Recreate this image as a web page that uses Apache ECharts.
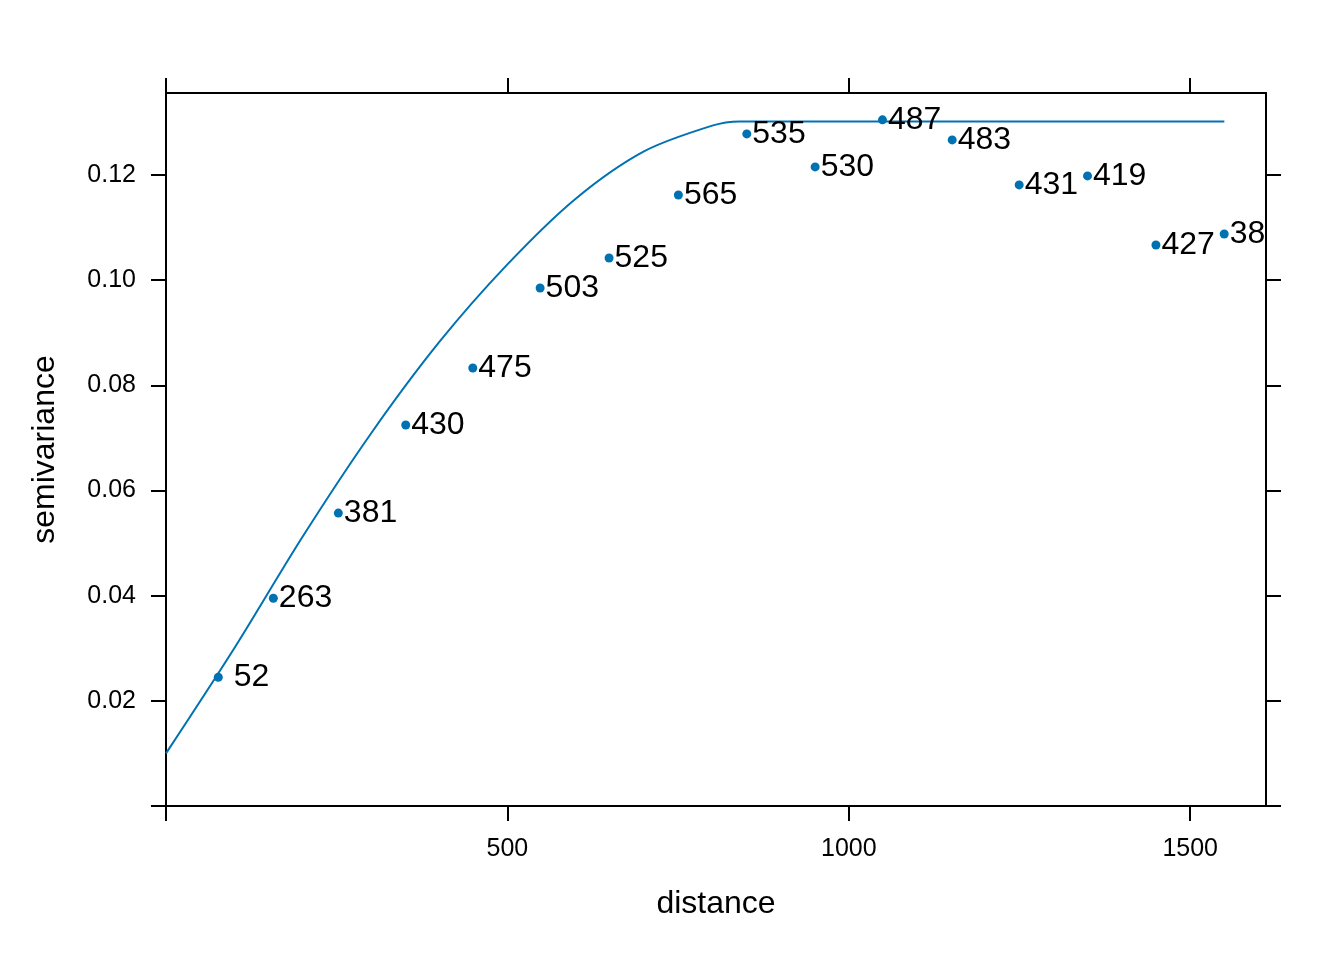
<!DOCTYPE html>
<html>
<head>
<meta charset="utf-8">
<script src="https://cdn.jsdelivr.net/npm/echarts@6/dist/echarts.min.js"></script>
<style>html,body{margin:0;padding:0;background:#fff;}#c{width:1344px;height:960px;}</style>
</head>
<body>
<div id="c"></div>
<script>
// Sample variogram: lag distance, semivariance, number of point pairs
const distance = [76.6, 157.2, 252.4, 351.1, 449.3, 547.9, 648.9, 750.4, 850.6, 950.7, 1049.3, 1151.4, 1249.5, 1349.6, 1449.8, 1549.8];
const gamma = [0.02449, 0.03952, 0.0557, 0.07245, 0.08329, 0.09852, 0.10422, 0.11621, 0.12782, 0.12154, 0.13049, 0.12668, 0.11812, 0.11983, 0.1067, 0.10879];
const npairs = ['52', '263', '381', '430', '475', '503', '525', '565', '535', '530', '487', '483', '431', '419', '427', '38'];

// Fitted model curve
const modelDist = [0, 100, 200, 300, 400, 500, 600, 700, 800, 840, 1000, 1550];
const modelGamma = [0.0100, 0.0300, 0.0512, 0.0708, 0.0882, 0.1030, 0.1155, 0.1245, 0.1294, 0.1302, 0.1302, 0.1302];

// Axis ticks
const xTicks = [0, 500, 1000, 1500];
const xTickLabels = [500, 1000, 1500];
const yTicks = [0, 0.02, 0.04, 0.06, 0.08, 0.10, 0.12];
const yTickLabels = [0.02, 0.04, 0.06, 0.08, 0.10, 0.12];

const FONT = 'Liberation Sans';
const BLUE = '#0072B2';
const XMAX = 1611, YMAX = 0.1356;

const lineStyle = {color: '#000', width: 2};
function xAxis(pos, showLabel) {
  return {
    type: 'value', position: pos, min: 0, max: XMAX,
    name: showLabel ? 'distance' : '', nameLocation: 'middle', nameGap: 82,
    nameTextStyle: {fontFamily: FONT, fontSize: 32, color: '#000'},
    axisLine: {show: true, onZero: false, lineStyle},
    axisTick: {show: true, inside: false, length: 15, lineStyle, customValues: xTicks},
    axisLabel: {show: showLabel, fontFamily: FONT, fontSize: 25, color: '#000', margin: 31,
      customValues: xTickLabels, formatter: v => String(v)},
    splitLine: {show: false}
  };
}
function yAxis(pos, showLabel) {
  return {
    type: 'value', position: pos, min: 0, max: YMAX,
    name: showLabel ? 'semivariance' : '', nameLocation: 'middle', nameGap: 105,
    nameTextStyle: {fontFamily: FONT, fontSize: 32, color: '#000'},
    axisLine: {show: true, onZero: false, lineStyle},
    axisTick: {show: true, inside: false, length: 15, lineStyle, customValues: yTicks},
    axisLabel: {show: showLabel, fontFamily: FONT, fontSize: 25, color: '#000', margin: 30,
      customValues: yTickLabels, formatter: v => v.toFixed(2)},
    splitLine: {show: false}
  };
}

const pts = distance.map((d, i) => {
  const item = {value: [d, gamma[i]], name: npairs[i]};
  if (i === 0) item.label = {distance: 11};
  return item;
});

const chart = echarts.init(document.getElementById('c'), null, {renderer: 'canvas'});
chart.setOption({
  backgroundColor: '#fff',
  animation: false,
  grid: {left: 166, top: 93, right: 78, bottom: 154, containLabel: false},
  xAxis: [xAxis('bottom', true), xAxis('top', false)],
  yAxis: [yAxis('left', true), yAxis('right', false)],
  series: [
    {
      type: 'line', xAxisIndex: 0, yAxisIndex: 0,
      data: modelDist.map((d, i) => [d, modelGamma[i]]),
      showSymbol: false, smooth: 0.3,
      lineStyle: {color: BLUE, width: 2}, z: 2
    },
    {
      type: 'scatter', xAxisIndex: 0, yAxisIndex: 0,
      data: pts, symbol: 'circle', symbolSize: 9,
      itemStyle: {color: BLUE, opacity: 1},
      label: {show: true, position: 'right', distance: 1, formatter: p => p.name,
        fontFamily: FONT, fontSize: 32, color: '#000', textBorderWidth: 0},
      z: 3
    }
  ]
});
</script>
</body>
</html>
